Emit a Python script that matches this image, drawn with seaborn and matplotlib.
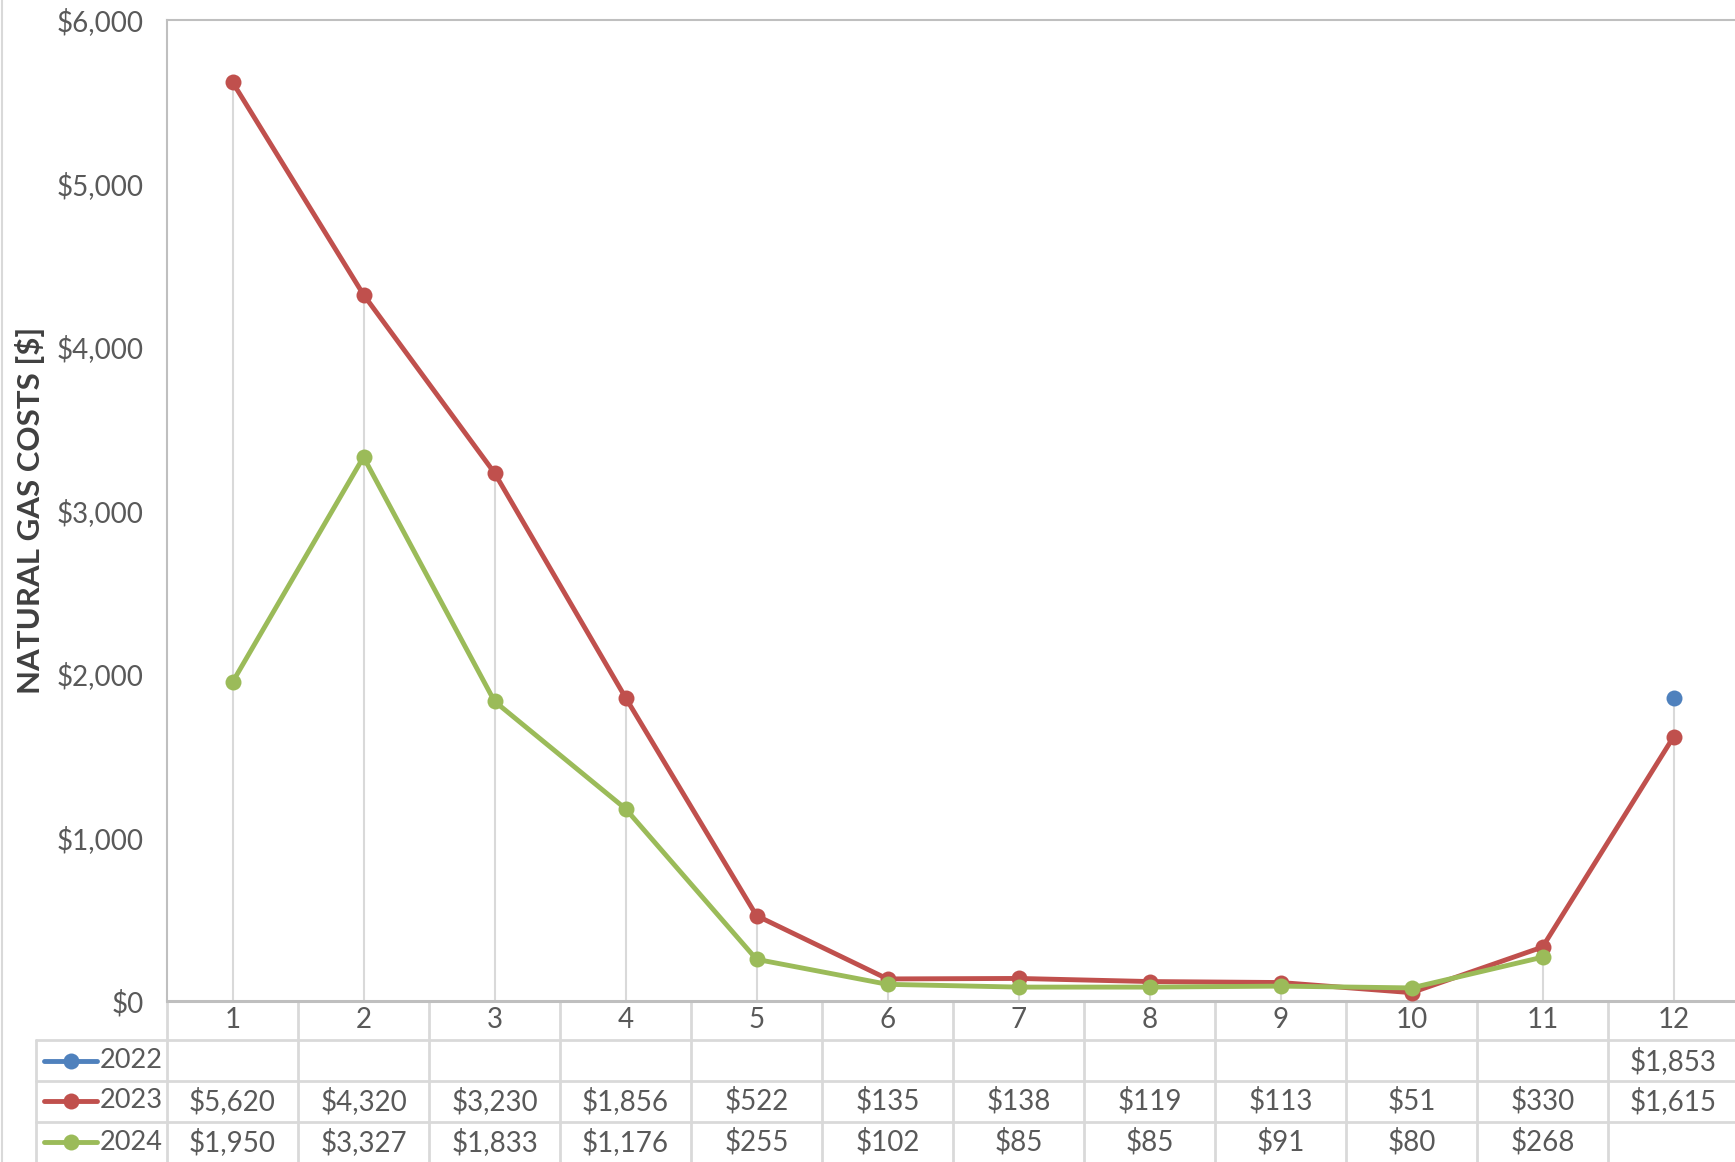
import matplotlib
matplotlib.use("Agg")
import matplotlib.pyplot as plt
import matplotlib.transforms as mtransforms
from matplotlib.lines import Line2D
import seaborn as sns
import numpy as np
import pandas as pd

# données
months = [1, 2, 3, 4, 5, 6, 7, 8, 9, 10, 11, 12]
cost_2022 = [np.nan] * 11 + [1853]
cost_2023 = [5620, 4320, 3230, 1856, 522, 135, 138, 119, 113, 51, 330, 1615]
cost_2024 = [1950, 3327, 1833, 1176, 255, 102, 85, 85, 91, 80, 268, np.nan]
years = ["2022", "2023", "2024"]
colors = ["#4F81BD", "#C0504D", "#9BBB59"]
y_ticks = [0, 1000, 2000, 3000, 4000, 5000, 6000]

series = {"2022": cost_2022, "2023": cost_2023, "2024": cost_2024}
df = pd.DataFrame({"month": months, **series})
long = df.melt(id_vars="month", var_name="year", value_name="cost").dropna()

sns.set_theme(style="white")
plt.rcParams["font.family"] = ["Lato", "DejaVu Sans"]
text_col = "#595959"
grid_col = "#D9D9D9"

W, H = 1735, 1162
fig = plt.figure(figsize=(W / 100, H / 100), dpi=100)
# zone du graphique en pixels
px_left, px_right, px_top, px_bottom = 167, 1739, 20, 1001
ax = fig.add_axes([px_left / W, 1 - px_bottom / H, (px_right - px_left) / W, (px_bottom - px_top) / H])

# lignes de projection
max_vals = df[years].max(axis=1)
ax.vlines(df["month"], 0, max_vals, color=grid_col, lw=1.5, zorder=0)

for year, col in zip(years, colors):
    sub = long[long["year"] == year]
    sns.lineplot(data=sub, x="month", y="cost", ax=ax, color=col, lw=3.5,
                 marker="o", markersize=11.5, markeredgewidth=0, zorder=3)

ax.set_xlim(0.5, 12.5)
ax.set_ylim(0, 6000)
ax.set_yticks(y_ticks)
ax.set_yticklabels([f"${v:,}" for v in y_ticks], fontsize=20, color=text_col)
ax.set_xticks([])
ax.tick_params(axis="y", length=0, pad=17)
ax.set_xlabel("")
ax.set_ylabel("NATURAL GAS COSTS [$]", fontsize=22.5, fontweight="bold", color="#404040")
ax.yaxis.set_label_coords(-0.0775, 0.50)

for s in ["left", "top"]:
    ax.spines[s].set_color("#BFBFBF")
    ax.spines[s].set_linewidth(1.5)
ax.spines["bottom"].set_color("#BFBFBF")
ax.spines["bottom"].set_linewidth(2.2)
ax.spines["right"].set_visible(False)

# table de données sous l'axe
def yfrac(py):
    return (px_bottom - py) / (px_bottom - px_top)

trans = mtransforms.blended_transform_factory(ax.transData, ax.transAxes)
row_edges = [1040, 1081, 1122, 1163]
row_centers = [1061, 1101, 1142]

for m in months:
    ax.text(m, yfrac(1020), str(m), transform=trans, ha="center", va="center",
            fontsize=20, color=text_col, clip_on=False)
ax.vlines(np.arange(0.5, 13.5, 1), yfrac(H + 5), 0, transform=trans, color=grid_col,
          lw=2, clip_on=False, zorder=1)

for py in row_edges[:-1]:
    fig.add_artist(Line2D([36 / W, 1], [1 - py / H] * 2, color=grid_col, lw=2))
fig.add_artist(Line2D([36 / W] * 2, [1 - 1040 / H, 0], color=grid_col, lw=2))
# bord gauche du graphique
fig.add_artist(Line2D([2 / W] * 2, [0, 1], color=grid_col, lw=1.5))

for year, col, py in zip(years, colors, row_centers):
    yy = 1 - py / H
    fig.add_artist(Line2D([44 / W, 97 / W], [yy, yy], color=col, lw=3.5))
    fig.add_artist(Line2D([71 / W], [yy], color=col, marker="o", markersize=11.5, markeredgewidth=0))
    fig.text(100 / W, yy, year, ha="left", va="center", fontsize=19.5, color=text_col)
    for m, v in zip(months, series[year]):
        if not np.isnan(v):
            ax.text(m, yfrac(py), f"${int(v):,}", transform=trans, ha="center", va="center",
                    fontsize=20, color=text_col, clip_on=False)

plt.savefig("out.png", dpi=100)
